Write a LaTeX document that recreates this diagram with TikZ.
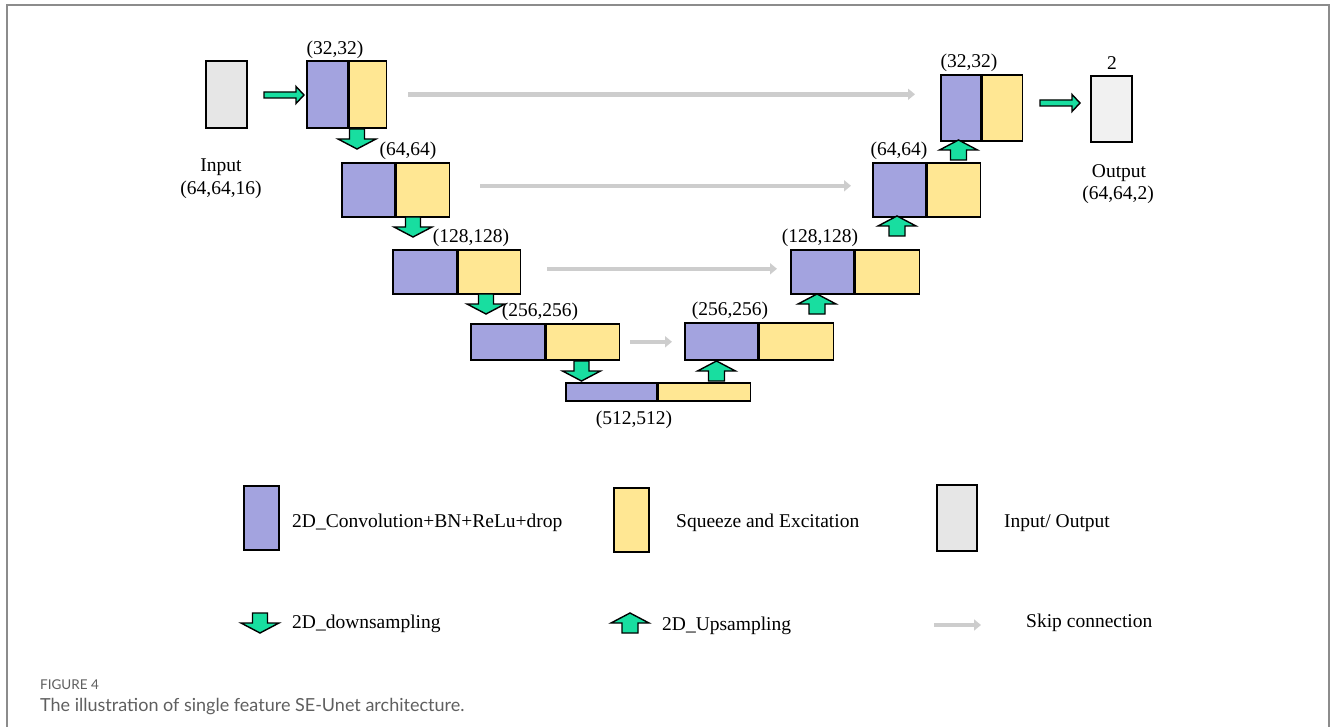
\documentclass[tikz,border=0pt]{standalone}
\usepackage{fontspec}
\setmainfont{Liberation Serif}
\newfontfamily\capfont{Lato}
\usetikzlibrary{arrows.meta}
\definecolor{convc}{RGB}{163,163,223}
\definecolor{sec}{RGB}{255,231,147}
\definecolor{ioc}{RGB}{230,230,230}
\definecolor{outc}{RGB}{241,241,241}
\definecolor{grn}{RGB}{24,222,160}
\definecolor{skipc}{RGB}{205,205,205}
\definecolor{framec}{RGB}{140,140,140}
\definecolor{capc}{RGB}{95,95,95}
\begin{document}
\begin{tikzpicture}[x=1pt,y=-1pt,
  blockn/.style={anchor=north west, inner sep=0pt, draw=black, line width=1.6pt},
  conv/.style={blockn, fill=convc},
  sen/.style={blockn, fill=sec},
  iob/.style={blockn, fill=ioc},
  oub/.style={blockn, fill=outc},
  blk/.style={draw=black, fill=grn, line width=1.4pt, line join=miter},
  skip/.style={draw=skipc, line width=4.5pt, -{Triangle[length=7pt,width=11pt]}},
  txt/.style={inner sep=0pt, font=\fontsize{19.5}{22}\selectfont},
  dnarr/.pic={\draw[blk] (-7.5,0)--(7.5,0)--(7.5,10)--(19,10)--(0,20)--(-19,10)--(-7.5,10)--cycle;},
  uparr/.pic={\draw[blk] (-8,0)--(8,0)--(8,-10)--(19,-10)--(0,-20)--(-19,-10)--(-8,-10)--cycle;},
  rtarr/.pic={\draw[blk] (0,-3)--(32,-3)--(32,-8.5)--(40,0)--(32,8.5)--(32,3)--(0,3)--cycle;}
]
\useasboundingbox (0,0) rectangle (1330,727);
\draw[framec, line width=2pt] (6.5,727) -- (6.5,5.5) -- (1329,5.5) -- (1329,727);

% encoder
\node[iob, minimum width=41, minimum height=67] (in) at (205,60) {};
\node[conv, minimum width=41, minimum height=67] (e1c) at (306,60) {};
\node[sen, minimum width=37, minimum height=67] (e1s) at (e1c.north east) {};
\node[conv, minimum width=53, minimum height=54] (e2c) at (341,162) {};
\node[sen, minimum width=53, minimum height=54] (e2s) at (e2c.north east) {};
\node[conv, minimum width=64, minimum height=44] (e3c) at (392,249) {};
\node[sen, minimum width=62, minimum height=44] (e3s) at (e3c.north east) {};
\node[conv, minimum width=74, minimum height=36] (e4c) at (470,323) {};
\node[sen, minimum width=73, minimum height=36] (e4s) at (e4c.north east) {};
\node[conv, minimum width=91, minimum height=18] (bc) at (565,382) {};
\node[sen, minimum width=92, minimum height=18] (bs) at (bc.north east) {};
% decoder
\node[conv, minimum width=73, minimum height=37] (d4c) at (684,322) {};
\node[sen, minimum width=74, minimum height=37] (d4s) at (d4c.north east) {};
\node[conv, minimum width=63, minimum height=44] (d3c) at (790,249) {};
\node[sen, minimum width=64, minimum height=44] (d3s) at (d3c.north east) {};
\node[conv, minimum width=53, minimum height=54] (d2c) at (872,162) {};
\node[sen, minimum width=53, minimum height=54] (d2s) at (d2c.north east) {};
\node[conv, minimum width=40, minimum height=66] (d1c) at (940,74) {};
\node[sen, minimum width=40, minimum height=66] (d1s) at (d1c.north east) {};
\node[oub, minimum width=41, minimum height=66] (out) at (1090,75) {};

% size labels
\node[txt] (l1) at (335,50) {(32,32)};
\node[txt] (l2) at (408,151) {(64,64)};
\node[txt] (l3) at (471,238) {(128,128)};
\node[txt] (l4) at (540,312) {(256,256)};
\node[txt] (l5) at (634,420) {(512,512)};
\node[txt] (l6) at (730,311) {(256,256)};
\node[txt] (l7) at (820,238) {(128,128)};
\node[txt] (l8) at (899,151) {(64,64)};
\node[txt] (l9) at (969,63) {(32,32)};
\node[txt] (l10) at (1112,63) {2};
\node[txt] (inl) at (221,167) {Input};
\node[txt] (inl2) at (221,190) {(64,64,16)};
\node[txt] (outl) at (1119,173) {Output};
\node[txt] (outl2) at (1118,195) {(64,64,2)};

% skip connections
\draw[skip, shorten <=21pt, shorten >=25pt] (e1s.east) -- (d1c.west |- e1s.east);
\draw[skip, shorten <=30pt, shorten >=21pt] ([yshift=4pt]e2s.east) -- ([yshift=4pt]d2c.west);
\draw[skip, shorten <=26pt, shorten >=13pt] ([yshift=3pt]e3s.east) -- ([yshift=3pt]d3c.west);
\draw[skip, shorten <=10pt, shorten >=12pt] (e4s.east) -- (d4c.west |- e4s.east);

% sampling arrows
\pic at (357,129) {dnarr};
\pic at (413,217) {dnarr};
\pic at (486,294) {dnarr};
\pic at (581.5,361) {dnarr};
\pic at (716.5,381) {uparr};
\pic at (817,314) {uparr};
\pic at (897,236) {uparr};
\pic at (958.5,160) {uparr};
\pic at (264,95) {rtarr};
\pic at (1040,103) {rtarr};

% legend
\node[conv, minimum width=35, minimum height=64] (lgc) at (243,485) {};
\node[txt, anchor=west] (lgct) at (292,523) {2D\_Convolution+BN+ReLu+drop};
\node[sen, minimum width=35, minimum height=64] (lgs) at (613,487) {};
\node[txt, anchor=west] (lgst) at (676,523) {Squeeze and Excitation};
\node[iob, minimum width=40, minimum height=66] (lgio) at (936,484) {};
\node[txt, anchor=west] (lgiot) at (1004,523) {Input/ Output};
\pic at (260,613) {dnarr};
\node[txt, anchor=west] (lgdt) at (292,624) {2D\_downsampling};
\pic at (630,633) {uparr};
\node[txt, anchor=west] (lgut) at (662,626) {2D\_Upsampling};
\coordinate (ls1) at (934,625);
\coordinate (ls2) at (981,625);
\draw[skip] (ls1) -- (ls2);
\node[txt, anchor=west] (lgskt) at (1026,623) {Skip connection};

% caption
\node[anchor=west, inner sep=0pt, font=\capfont\fontsize{13.5}{15}\selectfont, text=capc] (fig) at (40,685) {FIGURE 4};
\node[anchor=west, inner sep=0pt, font=\capfont\fontsize{18}{21}\selectfont, text=capc] (cap) at (40,707) {The illustration of single feature SE-Unet architecture.};
\end{tikzpicture}
\end{document}
